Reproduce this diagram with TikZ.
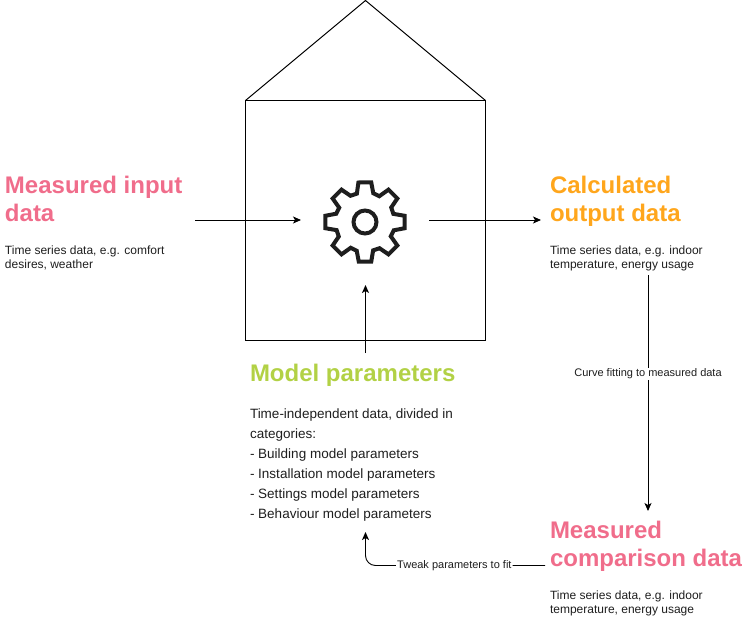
\documentclass[tikz,border=0pt]{standalone}
\usepackage{fontspec}
\setmainfont{Liberation Sans}
\usetikzlibrary{arrows.meta}
\definecolor{pinkt}{HTML}{F06D8B}
\definecolor{oranget}{HTML}{FFA61C}
\definecolor{greent}{HTML}{B2D145}
\definecolor{ink}{HTML}{1E1E1E}
\tikzset{
  shape line/.style={draw=black,line width=1pt},
  conn/.style={draw=black,line width=0.9pt,-{Stealth[length=8pt,width=7pt,inset=2pt]}},
  title text/.style={anchor=north west,inner sep=0pt,outer sep=0pt,align=left,font=\fontsize{24}{28}\selectfont\bfseries},
  body text/.style={anchor=north west,inner sep=0pt,outer sep=0pt,align=left,text=ink,font=\fontsize{12}{14}\selectfont},
  long text/.style={body text,font=\fontsize{13.5}{20}\selectfont},
  edge label/.style={fill=white,inner sep=1pt,font=\fontsize{11}{13}\selectfont,text=ink}
}
\begin{document}
\begin{tikzpicture}[x=1pt,y=-1pt]
\useasboundingbox (0,0) rectangle (752,621);
% house
\draw[shape line] (245.5,100.5) rectangle (485.5,340.5);
\draw[shape line] (245.5,100.5) -- (365.5,0.5) -- (485.5,100.5);
% gear
\coordinate (gear) at (365,222);
\draw[line width=4pt,ink,line join=miter,miter limit=3] (gear) ++(-99.5:40)
  \foreach \a in {0,45,...,315} { -- ([shift={(-90+\a-9:40)}]gear) -- ([shift={(-90+\a+9:40)}]gear) -- ([shift={(-90+\a+16:30)}]gear) -- ([shift={(-90+\a+29:29.5)}]gear) } -- cycle;
\draw[line width=4pt,ink] (gear) circle (11.5);
% texts
\node[title text,text=pinkt] (mi) at (5,176.5) {Measured input\\data};
\node[body text] (mid) at (5,245.5) {Time series data, e.g. comfort\\desires, weather};
\node[title text,text=oranget] (co) at (550,176.5) {Calculated\\output data};
\node[body text] (cod) at (550,245.5) {Time series data, e.g. indoor\\temperature, energy usage};
\node[title text,text=greent] (mp) at (250,364.5) {Model parameters};
\node[long text] (mpd) at (250,409) {Time-independent data, divided in\\categories:\\- Building model parameters\\- Installation model parameters\\- Settings model parameters\\- Behaviour model parameters};
\node[title text,text=pinkt] (mc) at (550,521.5) {Measured\\comparison data};
\node[body text] (mcd) at (550,590.5) {Time series data, e.g. indoor\\temperature, energy usage};
% connector ends
\coordinate (inA) at (195,220);
\coordinate (inB) at (301,220);
\coordinate (outA) at (429,220);
\coordinate (outB) at (541,220);
\coordinate (upA) at (365.5,353);
\coordinate (upB) at (365.5,285);
\coordinate (fitA) at (648,275);
\coordinate (fitB) at (648,511);
\coordinate (twA) at (545,565.5);
\coordinate (twB) at (365.5,532);
\draw[conn] (inA) -- (inB);
\draw[conn] (outA) -- (outB);
\draw[conn] (upA) -- (upB);
\draw[conn] (fitA) -- node[edge label,pos=0.42] (fitL) {Curve fitting to measured data} (fitB);
\draw[conn,rounded corners=10pt] (twA) -- node[edge label,pos=0.505] (twL) {Tweak parameters to fit} (twB |- twA) -- (twB);
\end{tikzpicture}
\end{document}
